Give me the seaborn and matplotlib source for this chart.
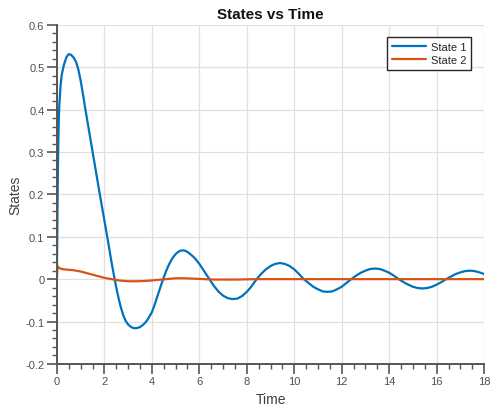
import numpy as np
import pandas as pd
import matplotlib
matplotlib.use("Agg")
import matplotlib.pyplot as plt
import seaborn as sns
from matplotlib.ticker import MultipleLocator

# ---- data ----
t_state1 = [0.0, 0.02, 0.04, 0.06, 0.08, 0.1, 0.15, 0.2, 0.27, 0.3, 0.4, 0.5, 0.6, 0.7,
            0.8, 0.9, 1.0, 1.1, 1.2, 1.3, 1.4, 1.5, 1.6, 1.7, 1.8, 1.9, 2.0, 2.1, 2.2,
            2.3, 2.4, 2.5, 2.6, 2.7, 2.8, 2.9, 3.0, 3.1, 3.2, 3.3, 3.4, 3.5, 3.6, 3.7,
            3.8, 3.9, 4.0, 4.1, 4.2, 4.3, 4.4, 4.5, 4.6, 4.7, 4.8, 4.9, 5.0, 5.1, 5.2,
            5.3, 5.4, 5.5, 5.6, 5.8, 6.0, 6.2, 6.4, 6.6, 6.8, 7.0, 7.2, 7.4, 7.6, 7.8,
            8.0, 8.2, 8.4, 8.6, 8.8, 9.0, 9.2, 9.4, 9.6, 9.8, 10.0, 10.2, 10.4, 10.6,
            10.8, 11.0, 11.2, 11.4, 11.6, 11.8, 12.0, 12.2, 12.4, 12.6, 12.8, 13.0,
            13.2, 13.4, 13.6, 13.8, 14.0, 14.2, 14.4, 14.6, 14.8, 15.0, 15.2, 15.4,
            15.6, 15.8, 16.0, 16.2, 16.4, 16.6, 16.8, 17.0, 17.2, 17.4, 17.6, 17.8,
            18.0]
state1 = [0.03, 0.15, 0.26, 0.33, 0.38, 0.41, 0.455, 0.482, 0.500, 0.507, 0.524, 0.531,
          0.529, 0.523, 0.513, 0.495, 0.468, 0.435, 0.400, 0.367, 0.334, 0.301, 0.268,
          0.235, 0.202, 0.170, 0.138, 0.106, 0.073, 0.040, 0.009, -0.020, -0.046,
          -0.068, -0.086, -0.099, -0.107, -0.112, -0.115, -0.116, -0.115, -0.113,
          -0.109, -0.104, -0.097, -0.088, -0.078, -0.063, -0.046, -0.029, -0.012,
          0.004, 0.019, 0.032, 0.043, 0.052, 0.059, 0.064, 0.067, 0.068, 0.067, 0.064,
          0.060, 0.050, 0.036, 0.019, 0.002, -0.015, -0.029, -0.039, -0.045, -0.047,
          -0.046, -0.040, -0.030, -0.017, -0.001, 0.012, 0.023, 0.031, 0.036, 0.038,
          0.036, 0.031, 0.023, 0.012, 0.0, -0.009, -0.018, -0.024, -0.029, -0.030,
          -0.029, -0.024, -0.018, -0.009, 0.0, 0.008, 0.015, 0.020, 0.024, 0.025,
          0.024, 0.020, 0.015, 0.008, 0.0, -0.007, -0.013, -0.018, -0.021, -0.022,
          -0.021, -0.018, -0.013, -0.007, 0.0, 0.006, 0.012, 0.016, 0.019, 0.020,
          0.019, 0.016, 0.012]

t_state2 = [0.0, 0.02, 0.05, 0.1, 0.2, 0.3, 0.5, 0.7, 1.0, 1.2, 1.4, 1.6, 1.8, 2.0, 2.2,
            2.4, 2.6, 2.8, 3.0, 3.4, 3.8, 4.2, 4.6, 5.0, 5.4, 5.8, 6.2, 6.6, 7.0, 7.6,
            8.4, 9.0, 10.0, 11.0, 12.0, 13.0, 14.0, 15.0, 16.0, 17.0, 18.0]
state2 = [0.0, 0.030, 0.029, 0.026, 0.024, 0.023, 0.022, 0.021, 0.018, 0.015, 0.012,
          0.009, 0.006, 0.003, 0.001, -0.001, -0.003, -0.004, -0.005, -0.005, -0.004,
          -0.002, 0.0, 0.002, 0.002, 0.001, 0.0, -0.001, -0.001, -0.001, 0.0, 0.0, 0.0,
          0.0, 0.0, 0.0, 0.0, 0.0, 0.0, 0.0, 0.0]

series_names = ["State 1", "State 2"]
series_colors = ["#0072BD", "#D95319"]

df = pd.concat([
    pd.DataFrame({"Time": t_state1, "States": state1, "series": series_names[0]}),
    pd.DataFrame({"Time": t_state2, "States": state2, "series": series_names[1]}),
], ignore_index=True)

sns.set_theme(style="white")
plt.rcParams["font.family"] = ["Liberation Sans", "DejaVu Sans"]

fig = plt.figure(figsize=(4.91, 4.10), dpi=100)
ax = fig.add_axes([0.116, 0.110, 0.870, 0.827])

sns.lineplot(data=df, x="Time", y="States", hue="series",
             palette=dict(zip(series_names, series_colors)),
             linewidth=1.6, ax=ax, sort=False, estimator=None)

ax.set_xlim(0, 18)
ax.set_ylim(-0.2, 0.6)
ax.xaxis.set_major_locator(MultipleLocator(2))
ax.xaxis.set_minor_locator(MultipleLocator(0.5))
ax.yaxis.set_minor_locator(MultipleLocator(0.02))
yt = np.round(np.arange(-0.2, 0.61, 0.1), 1)
ax.set_yticks(yt)
ax.set_yticklabels([f"{v:g}" for v in yt])

ax.grid(True, which="major", color="#e0e0e0", linewidth=0.9)
ax.set_axisbelow(True)
for s in ["top", "right"]:
    ax.spines[s].set_visible(False)
for s in ["left", "bottom"]:
    ax.spines[s].set_color("#555555")
    ax.spines[s].set_linewidth(1.4)

ax.tick_params(which="major", direction="out", length=7, width=1.2, color="#555555",
               labelsize=8, labelcolor="#505050", pad=2, left=True, bottom=True)
ax.tick_params(which="minor", direction="out", length=3.5, width=1.0, color="#555555",
               left=True, bottom=True)

ax.set_xlabel("Time", fontsize=10, color="#404040", labelpad=4)
ax.set_ylabel("States", fontsize=10, color="#404040", labelpad=2)
ax.set_title("States vs Time", fontsize=11, fontweight="bold", color="#111111", pad=5)

leg = ax.legend(loc="upper right", bbox_to_anchor=(0.97, 0.965), fontsize=8,
                frameon=True, fancybox=False, edgecolor="#262626", framealpha=1,
                handlelength=3.1, handletextpad=0.4, borderpad=0.45, labelspacing=0.3,
                borderaxespad=0.0)
leg.get_frame().set_linewidth(1.0)
for txt in leg.get_texts():
    txt.set_color("#262626")

fig.savefig("out.png", dpi=100)
